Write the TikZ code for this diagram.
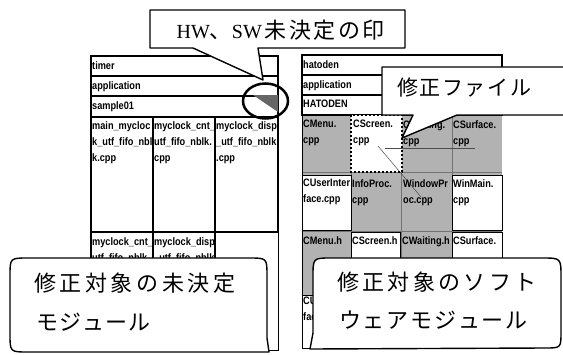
\documentclass[tikz,border=0pt]{standalone}
\usepackage{fontspec}
\setmainfont{Liberation Serif}
\newfontfamily\jp{Noto Sans CJK JP}
\newfontfamily\lat{Liberation Serif}
\newfontfamily\cellf[FakeStretch=0.85]{Liberation Sans}
\newcommand\lsp[2]{\def\lsamt{#1}\lspi#2\relax}
\def\lspi#1{\ifx#1\relax\else#1\kern\lsamt\expandafter\lspi\fi}
\begin{document}
\begin{tikzpicture}[x=1pt,y=-1pt,
  lbl/.style={font={\cellf\bfseries\fontsize{10.8}{16}\selectfont}, anchor=north west, inner sep=0pt, align=left},
  thick line/.style={draw=black, line width=1.6pt},
  thin line/.style={draw=black, line width=0.7pt},
  shadefill/.style={fill=black!30},
  wcell/.style={fill=white, draw=black, line width=1pt},
  callout/.style={fill=white, draw=black, line width=1.4pt, line join=round},
  jtext/.style={font={\jp\fontsize{22}{24}\selectfont}, anchor=west, inner sep=0pt},
]
\useasboundingbox (0,0) rectangle (563,354);

% ---------- left table ----------
\draw[thick line] (91,56) rectangle (278,117);
\draw[thick line] (91,76) -- (278,76);
\draw[thick line] (91,96) -- (278,96);
\draw[thick line] (91,117) rectangle (153,232);
\draw[thick line] (153,117) rectangle (215,232);
\draw[thick line] (215,117) rectangle (278,232);
\draw[thick line] (91,232) rectangle (153,350);
\draw[thick line] (153,232) rectangle (215,350);
\draw[thin line] (215,232) rectangle (278,350);
\fill[black!60] (253,95) -- (278,95) -- (278,112) -- cycle;

\node[lbl] (ltimer) at (92,61) {timer};
\node[lbl] (lapp) at (92,81) {application};
\node[lbl] (lsample) at (92,101) {sample01};
\node[lbl] (lc1) at (92,121) {main\_mycloc\\k\_utf\_fifo\_nbl\\k.cpp};
\node[lbl] (lc2) at (154,121) {myclock\_cnt\_\\utf\_fifo\_nblk.\\cpp};
\node[lbl] (lc3) at (216,121) {myclock\_disp\\\_utf\_fifo\_nblk\\.cpp};
\node[lbl] (lc4) at (92,237) {myclock\_cnt\_\\utf\_fifo\_nblk};
\node[lbl] (lc5) at (154,237) {myclock\_disp\\\_utf\_fifo\_nblk};

% ---------- right table ----------
\fill[shadefill] (302,115) rectangle (502,348);
\draw[black!55, line width=0.4pt] (302,172) -- (502,172) (302,231) -- (502,231)
  (351,115) -- (351,290) (401,115) -- (401,290) (452,115) -- (452,290);
\draw[thin line] (302,115) -- (302,348) -- (502,348);
\draw[thick line] (302,55) rectangle (502,115);
\draw[thick line] (302,75) -- (502,75);
\draw[thick line] (302,95) -- (502,95);
\fill[white] (351,115) rectangle (402,172);
\draw[wcell] (302,175) rectangle (351,230);
\draw[wcell] (452,175) rectangle (502,230);
\draw[wcell] (351,232) rectangle (400,275);
\draw[wcell] (452,232) rectangle (502,275);
\draw[wcell] (302,295) rectangle (345,348);
\draw[black!70, line width=0.5pt] (385,148) -- (475,148);
\draw[black!70, line width=0.5pt] (378,146) -- (421,197);
\draw[line width=2pt, dash pattern=on 2pt off 2pt] (351,115) rectangle (402,172);

\node[lbl] (rhat) at (303,60) {hatoden};
\node[lbl] (rapp) at (303,80) {application};
\node[lbl] (rHAT) at (303,100) {HATODEN};
\node[lbl] (r11) at (303,120) {CMenu.\\cpp};
\node[lbl] (r12) at (353,120) {CScreen.\\cpp};
\node[lbl] (r13) at (403,120) {CWaiting.\\cpp};
\node[lbl] (r14) at (453,120) {CSurface.\\cpp};
\node[lbl] (r21) at (303,179) {CUserInter\\face.cpp};
\node[lbl] (r22) at (352,179) {InfoProc.\\cpp};
\node[lbl] (r23) at (403,179) {WindowPr\\oc.cpp};
\node[lbl] (r24) at (453,179) {WinMain.\\cpp};
\node[lbl] (r31) at (303,236) {CMenu.h};
\node[lbl] (r32) at (352,236) {CScreen.h};
\node[lbl] (r33) at (402,236) {CWaiting.h};
\node[lbl] (r34) at (453,236) {CSurface.};
\node[lbl] (r41) at (303,297) {CUserInter\\face.cpp};

% ---------- callout: HW/SW mark ----------
\draw[callout] (150,10) -- (405,10) -- (405,48) -- (258,48) -- (263,80) -- (193,48) -- (150,48) -- cycle;
\node[anchor=center, inner sep=0pt] (hwtext) at (282,30)
  {{\lat\fontsize{20}{24}\selectfont HW}{\jp\fontsize{22}{24}\selectfont 、}{\lat\fontsize{20}{24}\selectfont SW}\kern3pt{\jp\fontsize{22}{24}\selectfont\lsp{2.5pt}{未決定の印}}};
\draw[line width=2.5pt] (265.5,101) ellipse [x radius=22.5, y radius=17.5];

% ---------- callout: modified file ----------
\draw[callout] (382,67) -- (580,67) -- (580,115) -- (457,115) -- (402,138) -- (413,115) -- (382,115) -- cycle;
\node[jtext, font={\jp\fontsize{21}{24}\selectfont}] (fixfile) at (397,88) {\lsp{1.6pt}{修正ファイル}};

% ---------- callout: left bottom ----------
\draw[callout] (28,258) -- (249,258) .. controls (267,258) .. (267,276) -- (267,338) -- (269,352)
  -- (28,352) .. controls (10,352) .. (10,334) -- (10,276) .. controls (10,258) .. (28,258) -- cycle;
\node[jtext] (lcl1) at (34,283) {\lsp{3.6pt}{修正対象の未決定}};
\node[jtext] (lcl2) at (36,322) {\lsp{1pt}{モジュール}};

% ---------- callout: right bottom ----------
\draw[callout] (331,258) -- (542,258) .. controls (561,258) .. (561,277) -- (561,332) .. controls (561,348) .. (545,348)
  -- (310,349) -- (313,333) -- (313,277) .. controls (313,258) .. (331,258) -- cycle;
\node[jtext] (rcl1) at (337,282) {\lsp{3.3pt}{修正対象のソフト}};
\node[jtext] (rcl2) at (339,320) {\lsp{1.8pt}{ウェアモジュール}};
\end{tikzpicture}
\end{document}
